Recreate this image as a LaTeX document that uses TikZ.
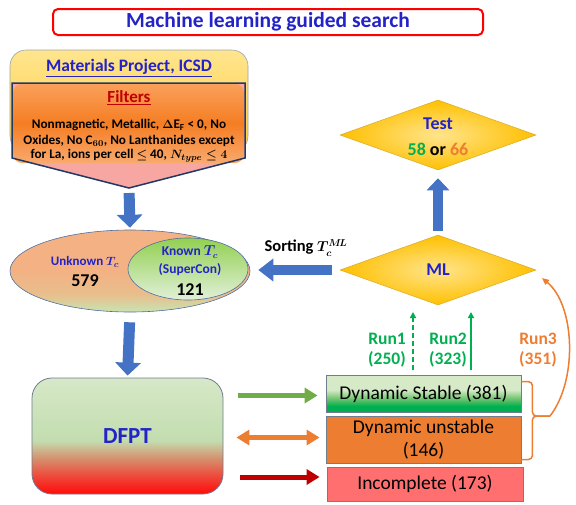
\documentclass[tikz,border=0pt]{standalone}
\usepackage{fontspec}
\setmainfont{Carlito}
\usetikzlibrary{arrows.meta,shapes.geometric,calc}
\definecolor{tblue}{RGB}{35,35,200}
\definecolor{ablue}{RGB}{68,114,196}
\definecolor{rgreen}{RGB}{0,176,80}
\definecolor{orng}{RGB}{237,125,49}
\definecolor{dkred}{RGB}{192,0,0}
\definecolor{lgreenarrow}{RGB}{112,173,71}
\definecolor{navy}{RGB}{32,56,100}
\definecolor{pinkf}{RGB}{247,166,162}
\definecolor{yel1}{RGB}{255,229,143}
\definecolor{yel2}{RGB}{255,205,60}
\definecolor{or1}{RGB}{250,160,90}
\definecolor{or2}{RGB}{245,125,35}
\definecolor{or3}{RGB}{248,170,110}
\definecolor{gold1}{RGB}{255,228,140}
\definecolor{gold2}{RGB}{255,192,0}
\definecolor{goldline}{RGB}{214,170,40}
\definecolor{gborder}{RGB}{110,125,145}
\definecolor{dred1}{RGB}{255,10,10}
\definecolor{dred2}{RGB}{238,75,60}
\definecolor{dbrown}{RGB}{212,150,115}
\definecolor{dgreen1}{RGB}{195,221,175}
\definecolor{dgreen2}{RGB}{214,232,200}
\definecolor{sg1}{RGB}{0,176,80}
\definecolor{sg2}{RGB}{110,195,110}
\definecolor{sg3}{RGB}{214,234,200}
\definecolor{eo}{RGB}{244,177,131}
\definecolor{eo2}{RGB}{232,190,140}
\definecolor{eg}{RGB}{201,227,178}
\definecolor{kg1}{RGB}{146,208,80}
\definecolor{kg2}{RGB}{226,240,217}
\definecolor{incred}{RGB}{255,111,111}
\definecolor{ellline}{RGB}{80,110,160}
\pgfdeclareverticalshading{dfptsh}{100bp}{color(0bp)=(dred1); color(25bp)=(dred1); color(33bp)=(dred2); color(41bp)=(dbrown); color(48bp)=(dgreen1); color(75bp)=(dgreen2); color(100bp)=(dgreen2)}
\pgfdeclareverticalshading{stabsh}{100bp}{color(0bp)=(sg1); color(25bp)=(sg1); color(33bp)=(sg1); color(43bp)=(sg2); color(55bp)=(sg3); color(75bp)=(sg3); color(100bp)=(sg3)}
\pgfdeclareverticalshading{ellsh}{100bp}{color(0bp)=(eg); color(25bp)=(eg); color(36bp)=(eo2); color(50bp)=(eo); color(75bp)=(eo); color(100bp)=(eo)}
\begin{document}
\begin{tikzpicture}[x=1pt,y=-1pt,
  blockarrow/.style={line width=11pt, ablue, -{Triangle[width=25pt,length=13pt]}},
  sidearrow/.style={line width=5pt, -{Triangle[width=15pt,length=13pt]}},
  runarrow/.style={rgreen, line width=1.5pt, -{Triangle[width=6pt,length=6pt]}},
  diam/.style={shape=diamond, inner sep=0pt, draw=goldline, line width=0.5pt, inner color=gold1, outer color=gold2},
  resbox/.style={draw=gborder, line width=0.8pt, inner sep=0pt, align=center, font=\fontsize{19.5}{23}\selectfont},
  bt/.style={font=\bfseries\boldmath\fontsize{#1}{#1}\selectfont},
  runlab/.style={font=\bfseries\fontsize{17.5}{20}\selectfont, align=center},
]
\useasboundingbox (0,0) rectangle (576,504);

% title
\node[draw=red, line width=2pt, rounded corners=5pt, minimum width=430pt, minimum height=26pt, inner sep=0pt,
      text=tblue, bt=21.5] (title) at (268,22) {Machine learning guided search};

% database box
\node[draw=gborder!70, line width=0.6pt, rounded corners=16pt, top color=yel1, bottom color=yel2,
      minimum width=238pt, minimum height=102pt, inner sep=0pt] (mp) at (129,101) {};
\node[text=tblue, bt=17.5] (mptext) at (129,68) {\underline{Materials Project, ICSD}};

% filter pentagon
\path[fill=pinkf] (12,83) -- (245,83) -- (245,158) -- (129,188) -- (12,158) -- cycle;
\node[rounded corners=9pt, top color=or1, bottom color=or3, middle color=or2,
      minimum width=231pt, minimum height=79pt, inner sep=0pt] (filt) at (128.5,123.5) {};
\draw[navy, line width=1.5pt, line join=miter] (12,83) -- (245,83) -- (245,158) -- (129,188) -- (12,158) -- cycle;
\coordinate (ptip) at (129,188);
\node[text=dkred, bt=17] (filttitle) at (129,98) {\underline{Filters}};
\node[bt=13.2] (fl1) at (129,125) {Nonmagnetic, Metallic, $\Delta$E$_{\mathrm{F}}$ < 0, No};
\node[bt=13.2] (fl2) at (129,141) {Oxides, No C$_{60}$, No Lanthanides except};
\node[bt=13.2] (fl3) at (129,156) {for La, ions per cell $\leq$ 40, $N_{type}\leq 4$};

% ellipses
\node[ellipse, draw=ellline, line width=0.6pt, shading=ellsh, minimum width=240pt, minimum height=82pt, inner sep=0pt] (ell) at (130,271) {};
\node[ellipse, draw=ellline, line width=0.6pt, top color=kg1, bottom color=kg2, minimum width=120pt, minimum height=62pt, inner sep=0pt] (known) at (188,269) {};
\node[text=tblue, bt=13] (unk) at (85,262) {Unknown $T_c$};
\node[text=black, bt=18] (n579) at (85,281) {579};
\node[text=tblue, bt=13.5] (kn) at (190,252) {Known $T_c$};
\node[text=tblue, bt=13.5] (sc) at (190,270) {(SuperCon)};
\node[text=black, bt=18] (n121) at (190,290) {121};

% DFPT
\node[draw=gborder, line width=0.8pt, rounded corners=20pt, shading=dfptsh, minimum width=191pt, minimum height=116pt,
      inner sep=0pt, text=tblue, bt=23] (dfpt) at (127.5,436) {DFPT};

% result boxes
\node[resbox, shading=stabsh, minimum width=195pt, minimum height=37pt] (stab) at (423.5,393.5) {Dynamic Stable (381)};
\node[resbox, fill=orng, minimum width=195pt, minimum height=47pt] (unst) at (423.5,439.5) {Dynamic unstable\\(146)};
\node[resbox, fill=incred, minimum width=196pt, minimum height=34pt] (inc) at (425,484) {Incomplete (173)};

% diamonds
\node[diam, minimum width=196pt, minimum height=70pt] (ml) at (438,270) {};
\node[text=tblue, bt=18] (mltext) at (438,270) {ML};
\node[diam, minimum width=196pt, minimum height=70pt] (test) at (438,135) {};
\node[text=tblue, bt=18] (testt) at (438,124) {Test};
\node[bt=18] (testn) at (438,149) {{\color{rgreen}58} or {\color{orng}66}};

% blue arrows
\draw[blockarrow, shorten <=5pt, shorten >=2pt] (ptip) -- (ell.north);
\draw[blockarrow, shorten <=10pt, shorten >=2pt] (ell.south) -- (dfpt.north);
\draw[blockarrow, line width=10pt, -{Triangle[width=22pt,length=12pt]}, shorten <=4pt, shorten >=8pt] (ml.north) -- (test.south);
\draw[blockarrow, line width=10pt, -{Triangle[width=22pt,length=15pt]}, shorten <=8pt, shorten >=8pt] (ml.west) -- (ml.west -| ell.east);
\node[bt=16.5, inner sep=1pt] (sort) at (306,248) {Sorting {\fontsize{14}{14}\selectfont$T_c^{M\!L}$}};

% side arrows
\draw[sidearrow, lgreenarrow, shorten <=15pt, shorten >=8pt] ([yshift=-2pt]stab.west -| dfpt.east) -- ([yshift=-2pt]stab.west);
\draw[sidearrow, orng, {Triangle[width=15pt,length=13pt]}-{Triangle[width=15pt,length=13pt]}, shorten <=13pt, shorten >=6pt] ([yshift=2pt]unst.west -| dfpt.east) -- ([yshift=2pt]unst.west);
\draw[sidearrow, dkred, shorten <=17pt, shorten >=7pt] ([yshift=7pt]inc.west -| dfpt.east) -- ([yshift=7pt]inc.west);

% run arrows
\coordinate (r1s) at (413,370); \coordinate (r1e) at (413,312);
\coordinate (r2s) at (471,370); \coordinate (r2e) at (471,312);
\draw[runarrow, dash pattern=on 5pt off 3pt] (r1s) -- (r1e);
\draw[runarrow] (r2s) -- (r2e);
\node[text=rgreen, runlab] (run1) at (387,350) {Run1\\(250)};
\node[text=rgreen, runlab] (run2) at (448,350) {Run2\\(323)};
\node[text=orng, runlab] (run3) at (538,350) {Run3\\(351)};

% brace and curved arrow
\coordinate (btip) at (550,416);
\coordinate (mlr) at (542,278);
\draw[orng, line width=1.5pt, rounded corners=4pt] ([yshift=-7pt]stab.north east) -- ++(11,0) |- (btip);
\draw[orng, line width=1.5pt, rounded corners=4pt] ([yshift=-20pt]unst.east) -- ++(11,0) |- (btip);
\draw[orng, line width=1.5pt, -{Triangle[width=6pt,length=7pt]}] (btip) .. controls (578,380) and (575,305) .. (mlr);
\end{tikzpicture}
\end{document}
